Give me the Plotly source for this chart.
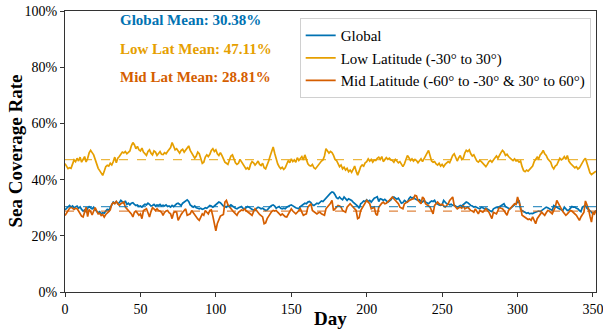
import plotly.graph_objects as go

# ---------------- data (percent) ----------------
days = list(range(0, 353))

low_lat = [
    45.7, 44.8, 43.9, 44.2, 44.0, 45.5, 47.0, 46.4, 47.6, 46.6, 48.0, 46.2, 47.0, 48.2, 46.3, 47.5, 49.5, 50.4, 49.6, 48.8,
    47.2, 45.5, 44.0, 43.2, 42.3, 41.5, 43.0, 44.6, 45.1, 44.8, 45.8, 45.2, 46.4, 48.0, 46.0, 47.6, 48.2, 49.0, 49.8, 49.5,
    50.0, 49.2, 49.6, 50.2, 52.0, 53.2, 52.4, 51.0, 51.8, 50.6, 50.2, 51.2, 49.8, 49.2, 48.6, 50.0, 50.6, 49.4, 48.8, 50.2,
    49.8, 48.6, 49.4, 50.0, 49.0, 48.9, 49.6, 49.2, 50.0, 50.8, 51.4, 53.2, 51.8, 50.6, 51.0, 50.0, 49.4, 50.4, 50.8, 49.8,
    50.6, 51.2, 52.0, 50.4, 49.6, 48.8, 47.6, 48.4, 49.8, 49.2, 47.0, 45.8, 46.2, 48.0, 48.8, 48.2, 49.0, 50.4, 51.0, 50.0,
    50.6, 49.2, 48.6, 49.6, 48.6, 47.0, 46.2, 45.8, 45.4, 47.0, 48.4, 48.8, 47.4, 46.0, 45.4, 45.8, 47.2, 46.4, 45.2, 44.4,
    43.8, 44.2, 43.5, 45.4, 46.4, 46.0, 45.2, 45.8, 46.6, 45.4, 45.0, 45.8, 44.2, 43.8, 45.0, 46.6, 48.4, 50.4, 51.6, 49.4,
    47.0, 45.6, 44.6, 43.9, 44.4, 43.6, 44.2, 45.6, 46.8, 46.0, 47.4, 46.4, 47.0, 46.2, 47.8, 46.8, 47.6, 48.2, 47.0, 48.8,
    47.2, 45.6, 45.0, 44.8, 45.4, 44.2, 43.8, 44.6, 45.4, 46.2, 46.6, 47.0, 48.4, 51.0, 50.2, 49.4, 50.0, 49.6, 48.6, 47.2,
    46.8, 45.8, 44.6, 45.2, 43.8, 44.4, 43.4, 44.0, 42.8, 43.4, 42.6, 43.6, 44.8, 43.0, 41.6, 43.0, 44.6, 45.2, 44.8, 46.0,
    46.4, 47.4, 46.6, 47.2, 46.2, 47.0, 46.8, 47.6, 48.0, 47.2, 48.2, 46.4, 47.0, 47.8, 47.2, 47.6, 47.0, 46.8, 46.2, 47.2,
    46.6, 46.0, 46.4, 45.2, 44.6, 45.6, 47.6, 48.6, 47.8, 46.8, 47.4, 46.6, 47.2, 46.8, 46.0, 46.8, 47.4, 46.4, 47.6, 48.6,
    49.4, 50.4, 48.2, 46.6, 46.2, 46.4, 45.6, 45.2, 45.8, 44.8, 45.4, 44.6, 45.4, 45.8, 46.4, 46.0, 47.6, 48.6, 49.2, 47.6,
    46.6, 47.8, 48.6, 47.2, 47.6, 49.4, 50.4, 50.0, 50.6, 49.2, 48.4, 48.8, 47.6, 46.6, 46.2, 46.8, 46.4, 45.8, 45.0, 44.6,
    45.4, 46.4, 46.8, 46.2, 47.0, 47.8, 48.4, 47.6, 48.8, 49.6, 50.4, 49.8, 48.6, 49.0, 48.2, 47.6, 47.2, 46.8, 47.4, 46.6,
    46.8, 46.2, 46.6, 44.6, 43.2, 42.8, 43.4, 43.0, 43.6, 44.2, 44.8, 46.4, 47.2, 48.0, 47.4, 48.8, 49.4, 50.4, 49.2, 48.6,
    47.4, 46.6, 46.2, 44.6, 43.8, 44.8, 45.2, 46.4, 47.6, 47.0, 47.4, 48.2, 47.2, 48.6, 46.6, 45.8, 45.2, 44.8, 44.2, 44.6,
    43.8, 44.2, 45.2, 46.2, 47.0, 47.6, 45.8, 43.6, 42.4, 41.8, 42.2, 42.6, 43.0,
]

global_cov = [
    29.2, 29.8, 30.4, 30.8, 30.2, 30.6, 30.0, 30.4, 30.6, 29.8, 30.3, 29.4, 28.8, 29.2, 28.6, 29.8, 30.4, 30.0, 29.6, 30.2,
    29.2, 28.8, 28.2, 28.6, 27.8, 28.2, 28.0, 28.8, 29.4, 29.0, 30.2, 31.4, 32.0, 31.6, 32.2, 31.4, 31.8, 32.6, 32.2, 31.6,
    32.4, 31.2, 31.6, 31.0, 31.6, 31.8, 31.2, 30.8, 31.0, 30.4, 30.6, 30.2, 30.8, 31.2, 31.0, 31.6, 31.2, 30.6, 30.8, 31.2,
    30.6, 31.0, 30.8, 31.2, 30.6, 30.9, 30.6, 31.0, 30.4, 30.6, 30.2, 30.8, 30.4, 31.0, 31.4, 31.6, 31.2, 30.8, 31.6, 32.0,
    32.4, 32.8, 32.2, 31.0, 30.6, 30.2, 30.6, 30.0, 29.8, 29.6, 29.8, 29.4, 29.6, 30.0, 29.8, 30.4, 30.8, 30.6, 30.2, 30.6,
    31.0, 31.6, 32.0, 31.8, 31.0, 30.6, 30.4, 30.2, 30.8, 30.6, 31.0, 30.4, 30.2, 29.8, 29.6, 30.0, 30.2, 30.4, 29.8, 29.6,
    30.0, 30.4, 30.2, 29.6, 29.4, 29.2, 29.0, 29.8, 30.2, 30.0, 29.6, 29.8, 29.2, 29.0, 29.2, 30.0, 30.4, 30.8, 31.0, 30.6,
    29.8, 30.2, 30.4, 29.8, 29.6, 29.8, 29.6, 30.2, 30.6, 30.8, 31.0, 30.6, 30.2, 30.0, 29.8, 29.6, 30.4, 30.8, 31.2, 31.6,
    31.4, 32.0, 32.2, 31.8, 31.0, 30.8, 31.2, 31.6, 31.4, 32.0, 32.4, 32.2, 32.8, 33.6, 34.2, 34.6, 35.2, 35.6, 35.4, 34.6,
    33.6, 33.2, 33.8, 33.2, 32.8, 33.8, 33.0, 32.6, 33.2, 33.0, 32.6, 32.0, 31.6, 31.0, 30.6, 29.8, 31.4, 31.8, 32.4, 32.2,
    32.8, 32.2, 32.6, 32.0, 32.8, 33.4, 33.6, 33.9, 32.2, 33.2, 33.0, 32.6, 33.0, 32.6, 32.0, 32.4, 32.8, 33.6, 33.8, 33.4,
    33.0, 33.4, 32.2, 31.6, 31.8, 32.6, 32.2, 32.0, 33.2, 33.8, 33.4, 33.6, 33.2, 33.0, 32.6, 32.8, 32.2, 32.0, 32.6, 32.0,
    31.6, 31.4, 32.0, 32.4, 32.2, 32.6, 31.6, 31.2, 31.0, 30.8, 31.0, 32.6, 32.0, 31.4, 31.4, 31.0, 31.2, 30.8, 30.9, 30.4,
    30.2, 30.4, 30.8, 30.6, 31.0, 31.6, 32.0, 31.8, 31.2, 30.8, 30.6, 30.2, 30.4, 30.0, 29.8, 29.6, 30.2, 30.0, 29.6, 29.8,
    29.6, 29.2, 28.8, 28.6, 29.6, 29.8, 30.2, 30.0, 30.4, 30.8, 31.2, 31.4, 30.4, 30.0, 29.8, 29.6, 30.2, 30.6, 31.0, 31.4,
    32.0, 32.6, 29.4, 28.8, 28.6, 28.4, 28.0, 28.2, 27.8, 28.0, 27.9, 28.2, 28.4, 28.6, 28.8, 28.6, 29.0, 29.4, 29.8, 30.2,
    30.0, 29.6, 29.2, 29.0, 30.8, 30.6, 30.2, 29.8, 29.6, 29.2, 29.0, 30.2, 29.6, 29.0, 29.2, 29.8, 30.4, 30.2, 30.2, 29.8,
    29.6, 29.0, 28.6, 30.2, 30.6, 30.8, 29.8, 29.2, 28.8, 28.4, 27.8, 28.6, 29.0,
]

mid_lat = [
    27.2, 28.2, 29.2, 29.8, 30.2, 29.6, 29.4, 29.8, 29.6, 28.8, 27.8, 27.0, 26.7, 28.6, 30.2, 26.8, 29.4, 28.6, 27.4, 28.8,
    30.0, 28.8, 27.8, 28.0, 27.2, 27.6, 26.7, 27.6, 28.0, 28.6, 29.2, 31.2, 31.8, 31.4, 32.2, 31.6, 30.8, 31.4, 31.8, 32.0,
    30.2, 29.6, 29.0, 28.2, 27.8, 26.7, 28.4, 28.8, 28.0, 27.3, 27.8, 26.1, 29.0, 29.4, 29.6, 28.2, 26.7, 28.6, 30.0, 29.6,
    29.0, 29.6, 29.0, 28.8, 28.4, 27.3, 28.4, 28.8, 29.0, 28.2, 27.8, 26.1, 28.2, 28.6, 28.4, 25.5, 26.8, 27.6, 28.4, 29.0,
    29.6, 27.3, 27.6, 27.8, 29.0, 28.2, 27.3, 26.6, 26.0, 25.5, 26.4, 27.8, 27.3, 29.0, 28.4, 27.8, 29.0, 29.2, 27.0, 24.0,
    21.8, 24.4, 25.8, 27.0, 27.3, 27.6, 32.0, 32.6, 31.0, 30.2, 29.6, 29.0, 28.4, 27.8, 27.3, 28.4, 28.8, 29.2, 29.0, 29.6,
    29.0, 28.6, 28.2, 27.8, 27.3, 28.6, 29.6, 29.0, 28.2, 27.6, 27.2, 26.7, 24.3, 24.6, 26.1, 27.2, 27.8, 28.6, 29.0, 28.8,
    29.0, 28.4, 27.8, 27.3, 27.8, 27.2, 26.8, 26.7, 27.8, 29.0, 29.6, 28.8, 28.2, 27.8, 28.4, 29.0, 29.6, 28.4, 27.3, 27.6,
    27.8, 30.2, 30.8, 31.4, 29.0, 28.6, 28.2, 27.8, 28.2, 28.4, 27.8, 27.6, 27.3, 29.6, 30.2, 30.8, 31.6, 32.6, 29.0, 29.6,
    30.2, 30.8, 30.6, 30.2, 29.0, 28.6, 28.4, 30.2, 30.8, 31.4, 30.8, 30.2, 29.6, 29.0, 26.1, 26.4, 29.0, 30.0, 30.8, 31.8,
    32.6, 32.0, 31.4, 29.6, 30.0, 30.2, 27.8, 27.3, 30.2, 31.0, 31.6, 32.0, 31.4, 31.6, 32.0, 32.6, 33.2, 33.8, 33.2, 32.6,
    32.0, 31.4, 30.2, 29.8, 29.6, 31.4, 31.8, 32.0, 32.6, 32.8, 33.0, 33.2, 34.4, 34.2, 32.6, 32.0, 31.4, 33.8, 33.2, 31.4,
    31.0, 30.8, 30.2, 29.0, 27.8, 30.8, 31.4, 32.0, 31.4, 31.0, 31.2, 30.8, 30.2, 30.8, 31.4, 32.6, 33.2, 33.8, 30.8, 30.2,
    29.6, 30.0, 30.2, 29.8, 30.8, 29.6, 30.0, 30.2, 29.6, 29.0, 28.8, 28.4, 29.6, 28.6, 27.8, 29.0, 28.8, 28.4, 29.0, 29.6,
    29.0, 28.4, 27.3, 26.1, 28.4, 28.0, 27.8, 29.0, 30.2, 29.8, 29.6, 29.0, 28.0, 27.3, 29.0, 29.6, 30.2, 30.8, 31.4, 31.2,
    33.8, 32.0, 30.2, 27.3, 27.0, 26.7, 26.1, 25.8, 26.0, 25.5, 26.7, 25.4, 24.3, 26.1, 26.8, 27.3, 28.4, 27.8, 27.3, 28.2,
    29.0, 28.8, 28.4, 27.8, 29.0, 30.2, 32.6, 31.4, 30.4, 29.6, 28.6, 27.8, 27.3, 27.8, 28.4, 29.0, 28.8, 28.4, 27.8, 27.3,
    26.4, 25.5, 26.7, 27.6, 28.4, 32.4, 30.8, 29.6, 27.0, 24.9, 28.4, 27.8, 29.0,
]

global_mean = 30.38
low_mean = 47.11
mid_mean = 28.81

series_names = ["Global", "Low Latitude (-30° to 30°)", "Mid Latitude (-60° to -30° & 30° to 60°)"]
mean_labels = ["Global Mean: 30.38%", "Low Lat Mean: 47.11%", "Mid Lat Mean: 28.81%"]
x_ticks = [0, 50, 100, 150, 200, 250, 300, 350]
y_ticks = [0, 20, 40, 60, 80, 100]
y_tick_text = ["0%", "20%", "40%", "60%", "80%", "100%"]
x_title = "Day"
y_title = "Sea Coverage Rate"

# ---------------- styling ----------------
C_GLOBAL = "#0072B2"
C_LOW = "#E69F00"
C_MID = "#D55E00"
FONT = "Liberation Serif"

fig = go.Figure()

for name, vals, col in zip(series_names, [global_cov, low_lat, mid_lat], [C_GLOBAL, C_LOW, C_MID]):
    fig.add_trace(go.Scatter(x=days, y=vals, mode="lines", name=name,
                             line=dict(color=col, width=1.7)))

for mval, col in zip([global_mean, low_mean, mid_mean], [C_GLOBAL, C_LOW, C_MID]):
    fig.add_trace(go.Scatter(x=[days[0], days[-1]], y=[mval, mval], mode="lines",
                             showlegend=False, opacity=0.75,
                             line=dict(color=col, width=1.3, dash="dash")))

for i, (txt, col) in enumerate(zip(mean_labels, [C_GLOBAL, C_LOW, C_MID])):
    fig.add_annotation(x=0.1, y=0.968 - i * 0.102, xref="paper", yref="paper",
                       text="<b>" + txt + "</b>", showarrow=False,
                       xanchor="left", yanchor="middle",
                       font=dict(family=FONT, size=15, color=col))

# axis titles placed as annotations for precise positioning
fig.add_annotation(x=0.5, y=-0.093, xref="paper", yref="paper", text="<b>" + x_title + "</b>",
                   showarrow=False, xanchor="center", yanchor="middle",
                   font=dict(family=FONT, size=19, color="black"))
fig.add_annotation(x=-0.094, y=0.5, xref="paper", yref="paper", text="<b>" + y_title + "</b>",
                   showarrow=False, xanchor="center", yanchor="middle", textangle=-90,
                   font=dict(family=FONT, size=19, color="black"))

axis_common = dict(showline=True, linecolor="#333333", linewidth=1.3, mirror=True,
                   ticks="outside", ticklen=4, tickcolor="#333333", showgrid=False,
                   zeroline=False, automargin=False, ticklabeloverflow="allow",
                   tickfont=dict(family=FONT, size=14, color="black"))

fig.update_xaxes(range=[0, 352], tickmode="array", tickvals=x_ticks,
                 ticktext=[str(t) for t in x_ticks], **axis_common)
fig.update_yaxes(range=[0, 100], tickmode="array", tickvals=y_ticks, ticktext=y_tick_text,
                 **axis_common)

fig.update_layout(
    width=603, height=331,
    margin=dict(l=65, r=7, t=11, b=39, autoexpand=False),
    paper_bgcolor="white", plot_bgcolor="white",
    showlegend=True,
    legend=dict(x=0.99, y=0.975, xanchor="right", yanchor="top",
                bgcolor="rgba(255,255,255,0.85)", bordercolor="#d0d0d0", borderwidth=1,
                font=dict(family=FONT, size=15, color="black"),
                tracegroupgap=0, itemwidth=30),
)

# remove the browser's default 8px body margin so the figure sits at the page origin
fig.write_html("out.html", config={"displayModeBar": False},
               post_script="document.body.style.margin='0px';document.body.style.overflow='hidden';")
